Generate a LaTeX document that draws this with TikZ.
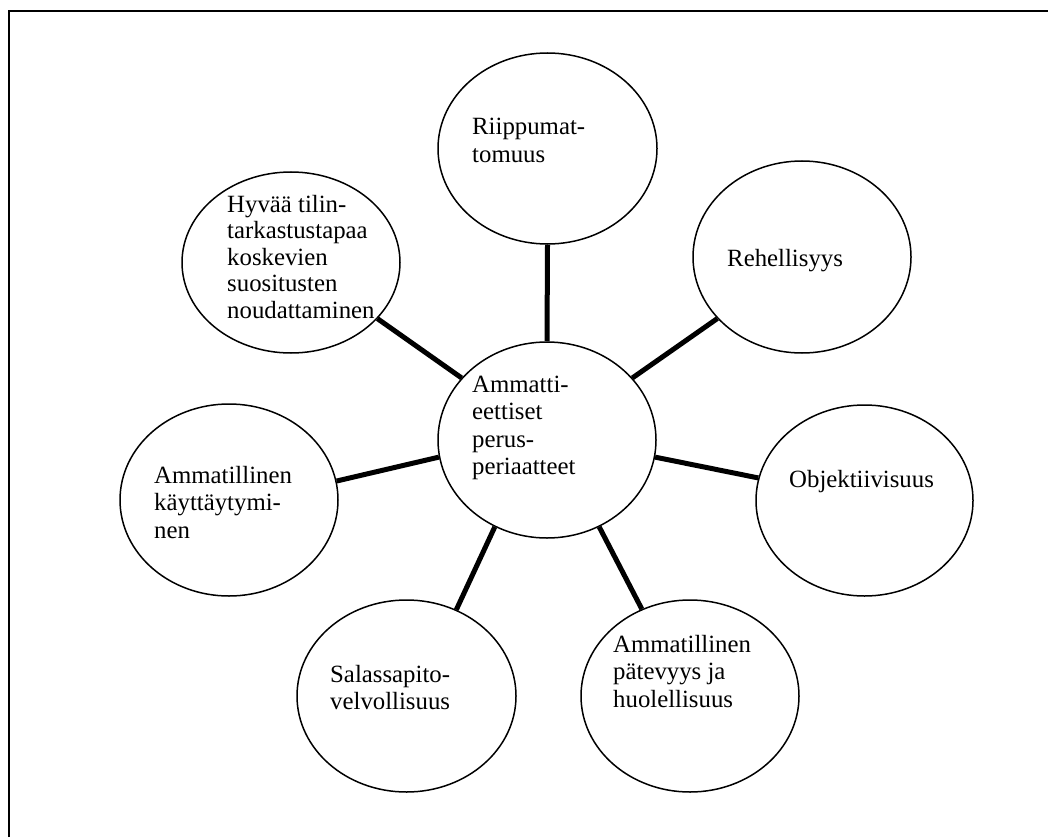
\documentclass[tikz,border=0pt]{standalone}
\usepackage{fontspec}
\setmainfont{Liberation Serif}
\usetikzlibrary{shapes.geometric}
\begin{document}
\begin{tikzpicture}[x=1pt,y=-1pt,
  bubble/.style={ellipse, draw, line width=1.5pt, inner sep=0pt},
  spoke/.style={line width=5pt},
  frameline/.style={line width=2pt},
  lbl/.style={anchor=base west, inner sep=0pt, font=\fontsize{24.8}{27.5}\selectfont},
  lblsmall/.style={lbl, font=\fontsize{24.8}{26.5}\selectfont}]
\useasboundingbox (0,0) rectangle (1048,837);

% outer frame (top and left edges)
\coordinate (fbl) at (9,837);
\coordinate (ftl) at (9,11);
\coordinate (ftr) at (1048,11);
\draw[frameline] (fbl) -- (ftl) -- (ftr);

% bubbles
\node[bubble, minimum width=218pt, minimum height=196pt] (c)   at (547,440) {};
\node[bubble, minimum width=219pt, minimum height=191pt] (rip) at (547.5,148.5) {};
\node[bubble, minimum width=218pt, minimum height=192pt] (reh) at (802,257) {};
\node[bubble, minimum width=217pt, minimum height=191pt] (obj) at (864.5,500.5) {};
\node[bubble, minimum width=218pt, minimum height=192pt] (pat) at (690,696) {};
\node[bubble, minimum width=219pt, minimum height=192pt] (sal) at (406.5,696) {};
\node[bubble, minimum width=218pt, minimum height=192pt] (kay) at (229,500) {};
\node[bubble, minimum width=218pt, minimum height=181pt] (hyv) at (291,262.5) {};

% spokes
\draw[spoke] (c.north) -- (rip.south);
\draw[spoke] (c.36) -- (reh.216);
\draw[spoke] (c.-9.5) -- (obj.168);
\draw[spoke] (c.-59.5) -- (pat.119);
\draw[spoke] (c.-121) -- (sal.60.5);
\draw[spoke] (c.189.5) -- (kay.10.5);
\draw[spoke] (c.144) -- (hyv.-33);

% labels
\node[lbl] (ct) at (472,392) {\begin{tabular}[t]{@{}l@{}}Ammatti-\\eettiset\\perus-\\periaatteet\end{tabular}};
\node[lbl] (ript) at (472,135) {\begin{tabular}[t]{@{}l@{}}Riippumat-\\tomuus\end{tabular}};
\node[lbl] (reht) at (727,266) {Rehellisyys};
\node[lbl] (objt) at (789,487) {Objektiivisuus};
\node[lbl] (patt) at (613,652) {\begin{tabular}[t]{@{}l@{}}Ammatillinen\\pätevyys ja\\huolellisuus\end{tabular}};
\node[lbl] (salt) at (330,682) {\begin{tabular}[t]{@{}l@{}}Salassapito-\\velvollisuus\end{tabular}};
\node[lbl] (kayt) at (154,483) {\begin{tabular}[t]{@{}l@{}}Ammatillinen\\käyttäytymi-\\nen\end{tabular}};
\node[lblsmall] (hyvt) at (227,212) {\begin{tabular}[t]{@{}l@{}}Hyvää tilin-\\tarkastustapaa\\koskevien\\suositusten\\noudattaminen\end{tabular}};
\end{tikzpicture}
\end{document}
